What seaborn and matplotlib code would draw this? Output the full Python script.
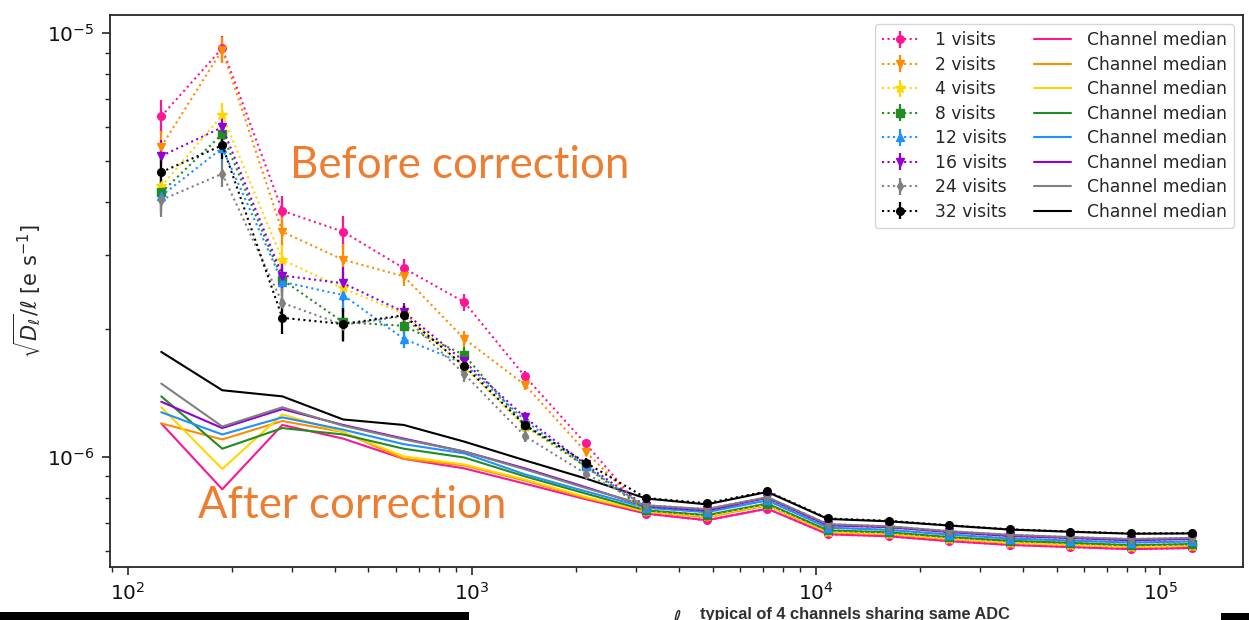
import matplotlib
matplotlib.use("Agg")
import numpy as np
import pandas as pd
import matplotlib.pyplot as plt
import seaborn as sns
from matplotlib.lines import Line2D
from matplotlib.patches import Rectangle
from matplotlib.ticker import LogLocator, NullFormatter

# multipole bins
ell = [125, 188, 281, 422, 633, 949, 1424, 2136, 3204, 4805, 7208,
       10812, 16218, 24327, 36491, 54736, 82104, 123157]

visit_labels = ["1 visits", "2 visits", "4 visits", "8 visits",
                "12 visits", "16 visits", "24 visits", "32 visits"]
colors = ["#ff1493", "#ff8c00", "#ffd700", "#228b22",
          "#1e90ff", "#9400d3", "#808080", "#000000"]
markers = ["o", "v", "*", "s", "^", "v", "d", "o"]

# sqrt(D_l)/l before correction, units of 1e-6 e/s
before_1 = [6.37, 9.22, 3.81, 3.40, 2.79, 2.32, 1.55, 1.076, 0.735, 0.709, 0.755, 0.657, 0.650, 0.633, 0.620, 0.613, 0.606, 0.610]
before_2 = [5.40, 9.14, 3.40, 2.92, 2.67, 1.90, 1.48, 1.030, 0.742, 0.721, 0.769, 0.664, 0.657, 0.640, 0.627, 0.620, 0.613, 0.617]
before_4 = [4.35, 6.41, 2.92, 2.50, 2.18, 1.63, 1.18, 0.950, 0.744, 0.724, 0.771, 0.666, 0.659, 0.642, 0.628, 0.621, 0.614, 0.618]
before_8 = [4.21, 5.78, 2.62, 2.08, 2.04, 1.74, 1.19, 0.950, 0.748, 0.729, 0.776, 0.671, 0.664, 0.647, 0.634, 0.627, 0.619, 0.623]
before_12 = [4.13, 5.36, 2.59, 2.41, 1.90, 1.66, 1.22, 0.950, 0.759, 0.741, 0.790, 0.681, 0.673, 0.656, 0.642, 0.635, 0.628, 0.632]
before_16 = [5.13, 6.00, 2.68, 2.57, 2.20, 1.68, 1.24, 0.960, 0.765, 0.748, 0.801, 0.690, 0.683, 0.665, 0.651, 0.644, 0.636, 0.641]
before_24 = [4.04, 4.66, 2.31, 2.05, 2.15, 1.57, 1.12, 0.914, 0.769, 0.753, 0.804, 0.694, 0.686, 0.668, 0.655, 0.647, 0.640, 0.644]
before_32 = [4.70, 5.44, 2.13, 2.06, 2.16, 1.64, 1.19, 0.970, 0.800, 0.778, 0.830, 0.716, 0.707, 0.690, 0.675, 0.667, 0.660, 0.661]

# fractional 1-sigma uncertainty per bin
rel_err = [0.09, 0.07, 0.085, 0.09, 0.05, 0.045, 0.03, 0.025, 0.012, 0.01,
           0.01, 0.008, 0.008, 0.008, 0.008, 0.008, 0.008, 0.008]

# channel medians after correction, units of 1e-6 e/s
median_1 = [1.20, 0.839, 1.19, 1.105, 0.990, 0.940, 0.865, 0.795, 0.735, 0.709, 0.755, 0.657, 0.650, 0.633, 0.620, 0.613, 0.606, 0.610]
median_2 = [1.20, 1.100, 1.216, 1.145, 0.990, 0.955, 0.880, 0.800, 0.742, 0.721, 0.769, 0.664, 0.657, 0.640, 0.627, 0.620, 0.613, 0.617]
median_4 = [1.31, 0.937, 1.26, 1.145, 1.003, 0.960, 0.885, 0.805, 0.744, 0.724, 0.771, 0.666, 0.659, 0.642, 0.628, 0.621, 0.614, 0.618]
median_8 = [1.39, 1.046, 1.17, 1.130, 1.046, 0.997, 0.900, 0.820, 0.748, 0.729, 0.776, 0.671, 0.664, 0.647, 0.634, 0.627, 0.619, 0.623]
median_12 = [1.275, 1.130, 1.24, 1.160, 1.072, 1.020, 0.910, 0.830, 0.759, 0.741, 0.790, 0.681, 0.673, 0.656, 0.642, 0.635, 0.628, 0.632]
median_16 = [1.35, 1.170, 1.297, 1.190, 1.105, 1.030, 0.940, 0.849, 0.765, 0.748, 0.801, 0.690, 0.683, 0.665, 0.651, 0.644, 0.636, 0.641]
median_24 = [1.49, 1.180, 1.31, 1.185, 1.100, 1.030, 0.935, 0.845, 0.769, 0.753, 0.804, 0.694, 0.686, 0.668, 0.655, 0.647, 0.640, 0.644]
median_32 = [1.77, 1.437, 1.39, 1.226, 1.190, 1.087, 0.982, 0.890, 0.798, 0.773, 0.827, 0.714, 0.705, 0.689, 0.674, 0.666, 0.659, 0.660]

before = [before_1, before_2, before_4, before_8, before_12, before_16, before_24, before_32]
medians = [median_1, median_2, median_4, median_8, median_12, median_16, median_24, median_32]

sns.set_theme(style="ticks")
plt.rcParams.update({
    "font.family": ["DejaVu Sans"],
    "axes.linewidth": 1.3,
    "axes.edgecolor": "#262626",
    "xtick.major.size": 6, "ytick.major.size": 6,
    "xtick.minor.size": 3.5, "ytick.minor.size": 3.5,
    "xtick.major.width": 1.2, "ytick.major.width": 1.2,
    "xtick.minor.width": 1.0, "ytick.minor.width": 1.0,
    "xtick.color": "#262626", "ytick.color": "#262626",
    "xtick.labelcolor": "#111111", "ytick.labelcolor": "#111111",
})

W, H = 1249, 620
fig = plt.figure(figsize=(W / 100, H / 100), dpi=100)
ax = fig.add_axes([110 / W, 1 - 567 / H, (1243 - 110) / W, (567 - 15) / H])

# channel medians (solid)
med_df = pd.DataFrame({
    "ell": np.tile(ell, len(medians)),
    "value": np.concatenate([np.asarray(m) * 1e-6 for m in medians]),
    "series": np.repeat(visit_labels, len(ell)),
})
sns.lineplot(data=med_df, x="ell", y="value", hue="series", hue_order=visit_labels,
             palette=colors, estimator=None, sort=False, linewidth=1.5,
             legend=False, ax=ax, zorder=2)

# per-visit curves before correction (dotted, with error bars)
eb_handles = []
for vals, c, m, lab in zip(before, colors, markers, visit_labels):
    y = np.asarray(vals) * 1e-6
    h = ax.errorbar(ell, y, yerr=y * np.asarray(rel_err), fmt=":", marker=m,
                    color=c, ms=5.5 if m != "*" else 7, lw=1.5, elinewidth=1.6,
                    capsize=0, label=lab, zorder=3)
    eb_handles.append(h)

ax.set_xscale("log")
ax.set_yscale("log")
ax.set_xlim(88.7, 1.738e5)
ax.set_ylim(5.5e-7, 1.104e-5)
ax.xaxis.set_minor_locator(LogLocator(base=10, subs=np.arange(2, 10)))
ax.yaxis.set_minor_locator(LogLocator(base=10, subs=np.arange(2, 10)))
ax.xaxis.set_minor_formatter(NullFormatter())
ax.yaxis.set_minor_formatter(NullFormatter())
ax.tick_params(axis="both", which="major", labelsize=14.5, pad=5)
for s in ax.spines.values():
    s.set_visible(True)

ax.set_xlabel(r"$\ell$", fontsize=15, labelpad=4)
ax.set_ylabel(r"$\sqrt{D_\ell}/\ell$ [e s$^{-1}$]", fontsize=15, labelpad=3)

med_handles = [Line2D([], [], color=c, lw=1.5) for c in colors]
ax.legend(handles=eb_handles + med_handles,
          labels=visit_labels + ["Channel median"] * len(colors),
          ncol=2, loc="upper right", fontsize=12.3, frameon=True,
          labelspacing=0.38, columnspacing=1.6, handlelength=2.2,
          handletextpad=0.9, borderaxespad=0.55, borderpad=0.4)

orange_txt = "#ed7d31"
fig.text(290 / W, 1 - 178 / H, "Before correction", color=orange_txt,
         fontsize=31.5, family="Lato", ha="left", va="baseline")
fig.text(198 / W, 1 - 518 / H, "After correction", color=orange_txt,
         fontsize=31.5, family="Lato", ha="left", va="baseline")

fig.text(700 / W, 1 - 607 / H, "typical of 4 channels sharing same ADC",
         color="#303030", fontsize=11.8, family="Liberation Sans",
         fontweight="bold", ha="left", va="top")

fig.patches.append(Rectangle((0, 0), 469 / W, 8 / H, transform=fig.transFigure,
                             facecolor="black", edgecolor="none", zorder=5))
fig.patches.append(Rectangle((1221 / W, 0), 28 / W, 7 / H, transform=fig.transFigure,
                             facecolor="black", edgecolor="none", zorder=5))

fig.savefig("out.png", dpi=100)
